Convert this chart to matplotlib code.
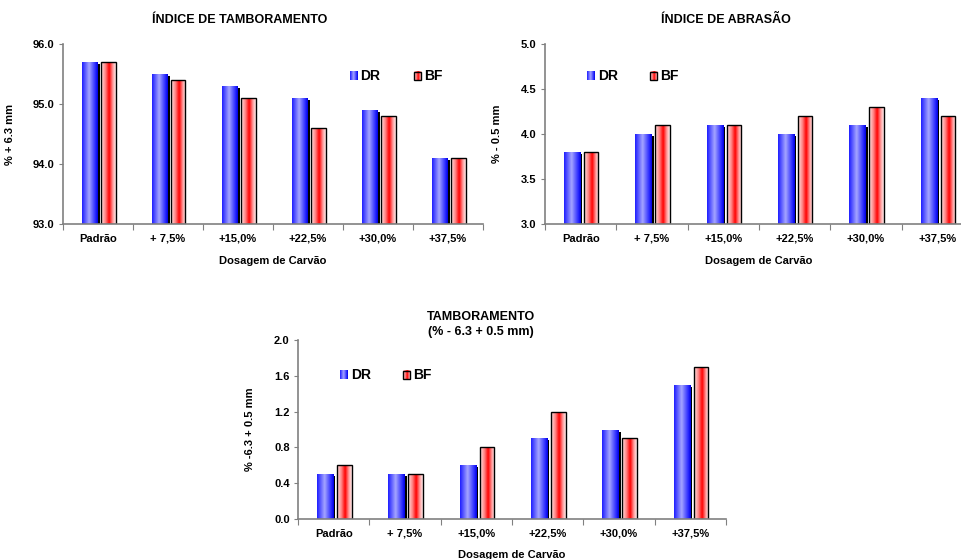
import numpy as np
import matplotlib
matplotlib.use('Agg')
import matplotlib.pyplot as plt
from matplotlib.transforms import offset_copy
from matplotlib.patches import Rectangle

plt.rcParams['font.family'] = ['Liberation Sans', 'DejaVu Sans']
plt.rcParams['font.weight'] = 'bold'

# dados
categorias = ['Padrão', '+ 7,5%', '+15,0%', '+22,5%', '+30,0%', '+37,5%']

tamb_dr = [95.7, 95.5, 95.3, 95.1, 94.9, 94.1]
tamb_bf = [95.7, 95.4, 95.1, 94.6, 94.8, 94.1]

abr_dr = [3.8, 4.0, 4.1, 4.0, 4.1, 4.4]
abr_bf = [3.8, 4.1, 4.1, 4.2, 4.3, 4.2]

med_dr = [0.5, 0.5, 0.6, 0.9, 1.0, 1.5]
med_bf = [0.6, 0.5, 0.8, 1.2, 0.9, 1.7]

W, H = 962, 559
fig = plt.figure(figsize=(W / 100, H / 100), dpi=100)


def rgb_grad(stops, n=64):
    pos = [s[0] for s in stops]
    cols = np.array([s[1] for s in stops], dtype=float) / 255.0
    t = np.linspace(0, 1, n)
    g = np.stack([np.interp(t, pos, cols[:, k]) for k in range(3)], axis=-1)
    return g[np.newaxis, :, :]


grad_azul = rgb_grad([(0, (30, 30, 255)), (0.45, (165, 165, 255)),
                      (0.85, (40, 40, 255)), (1, (0, 0, 225))])
grad_verm = rgb_grad([(0, (255, 230, 230)), (0.3, (255, 130, 130)),
                      (0.55, (255, 0, 0)), (0.8, (255, 160, 160)),
                      (1, (255, 238, 238))])


def eixo(px_left, px_right, px_top, px_bottom):
    return fig.add_axes([px_left / W, 1 - px_bottom / H,
                         (px_right - px_left) / W, (px_bottom - px_top) / H])


def pinta(ax, bars, grad):
    for b in bars:
        x0, y0 = b.get_x(), b.get_y()
        im = ax.imshow(grad, extent=[x0, x0 + b.get_width(), y0, y0 + b.get_height()],
                       aspect='auto', interpolation='bilinear', zorder=2)
        im.set_clip_path(b)


def legenda(ax, x, y, grad, texto, borda):
    w, h = 0.017, 0.045
    ax.imshow(grad, extent=[x, x + w, y - h / 2, y + h / 2], transform=ax.transAxes,
              aspect='auto', interpolation='bilinear', zorder=5, clip_on=False)
    if borda:
        ax.add_patch(Rectangle((x, y - h / 2), w, h, transform=ax.transAxes, fill=False,
                               edgecolor='black', lw=1, zorder=6, clip_on=False))
    ax.text(x + w + 0.008, y, texto, transform=ax.transAxes, fontsize=10,
            fontweight='bold', va='center', ha='left')


def grafico(ax, dr, bf, ylim, yticks, ylabel, ylabel_x, leg):
    x = np.arange(len(categorias))
    base = ylim[0]
    h_dr = np.array(dr) - base
    h_bf = np.array(bf) - base
    sombra = offset_copy(ax.transData, fig=fig, x=2.5, y=-2, units='dots')
    ax.bar(x - 0.235, h_dr, width=0.225, bottom=base, align='edge', color='black',
           transform=sombra, zorder=1)
    b_dr = ax.bar(x - 0.235, h_dr, width=0.225, bottom=base, align='edge',
                  color='none', zorder=3)
    b_bf = ax.bar(x + 0.045, h_bf, width=0.205, bottom=base, align='edge',
                  color='none', edgecolor='black', linewidth=1, zorder=3)
    pinta(ax, b_dr, grad_azul)
    pinta(ax, b_bf, grad_verm)

    ax.set_xlim(-0.5, len(categorias) - 0.5)
    ax.set_ylim(*ylim)
    ax.set_yticks(yticks)
    ax.set_yticklabels(['%.1f' % v for v in yticks], fontsize=8, fontweight='bold')
    ax.set_xticks(np.arange(len(categorias) + 1) - 0.5)
    ax.set_xticklabels([])
    ax.set_xticks(x, minor=True)
    ax.set_xticklabels(categorias, minor=True, fontsize=8, fontweight='bold')
    ax.tick_params(axis='x', which='minor', length=0, pad=7)
    ax.tick_params(axis='x', which='major', length=4, color='#808080', direction='out')
    ax.tick_params(axis='y', length=3, color='#808080', direction='out', pad=3)

    for s in ['top', 'right']:
        ax.spines[s].set_visible(False)
    for s in ['left', 'bottom']:
        ax.spines[s].set_color('#808080')
        ax.spines[s].set_linewidth(1.2)
        ax.spines[s].set_zorder(4)

    ax.set_xlabel('Dosagem de Carvão', fontsize=8, fontweight='bold')
    ax.xaxis.set_label_coords(0.5, -0.175)
    ax.set_ylabel(ylabel, fontsize=8, fontweight='bold')
    ax.yaxis.set_label_coords(ylabel_x, 0.5)

    lx1, lx2, ly = leg
    legenda(ax, lx1, ly, grad_azul, 'DR', False)
    legenda(ax, lx2, ly, grad_verm, 'BF', True)


ax1 = eixo(63, 483, 44, 224)
grafico(ax1, tamb_dr, tamb_bf, (93.0, 96.0), [93.0, 94.0, 95.0, 96.0],
        '% + 6.3 mm', -0.114, (0.683, 0.836, 0.822))

ax2 = eixo(545, 973, 44, 224)
grafico(ax2, abr_dr, abr_bf, (3.0, 5.0), [3.0, 3.5, 4.0, 4.5, 5.0],
        '% - 0.5 mm', -0.100, (0.098, 0.245, 0.822))

ax3 = eixo(298, 726, 340, 519)
grafico(ax3, med_dr, med_bf, (0.0, 2.0), [0.0, 0.4, 0.8, 1.2, 1.6, 2.0],
        '% -6.3 + 0.5 mm', -0.100, (0.098, 0.245, 0.804))

fig.text(240 / W, 1 - 20 / H, 'ÍNDICE DE TAMBORAMENTO', ha='center', va='center',
         fontsize=9, fontweight='bold')
fig.text(726 / W, 1 - 20 / H, 'ÍNDICE DE ABRASÃO', ha='center', va='center',
         fontsize=9, fontweight='bold')
fig.text(481 / W, 1 - 324.5 / H, 'TAMBORAMENTO\n(% - 6.3 + 0.5 mm)', ha='center',
         va='center', fontsize=9, fontweight='bold', linespacing=1.25)

fig.savefig('out.png', dpi=100)
